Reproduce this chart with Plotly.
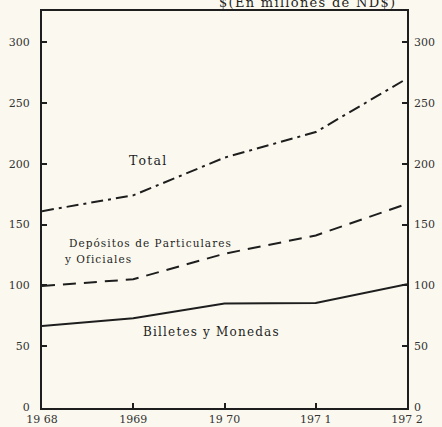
import plotly.graph_objects as go

years = [1968, 1969, 1970, 1971, 1972]
total = [161, 174, 205, 226, 270]
depositos = [99.5, 105, 126, 141, 167]
billetes = [66.5, 73, 85, 85.5, 101]
yticks = [0, 50, 100, 150, 200, 250, 300]
xticks = [1968, 1969, 1970, 1971, 1972]
xlabels = ["19 68", "1969", "19 70", "197 1", "197 2"]

FONT = "DejaVu Serif"
INK = "#1e1e1e"
BG = "#fbf9ef"
HS = "\u200a"

def spaced(s):
    return HS.join(list(s))

fig = go.Figure()
fig.add_trace(go.Scatter(x=years, y=total, mode="lines", line=dict(color=INK, width=2, dash="12px,5px,3px,5px"), showlegend=False))
fig.add_trace(go.Scatter(x=years, y=depositos, mode="lines", line=dict(color=INK, width=2, dash="13px,8px"), showlegend=False))
fig.add_trace(go.Scatter(x=years, y=billetes, mode="lines", line=dict(color=INK, width=2), showlegend=False))
fig.add_trace(go.Scatter(x=[1968], y=[0], yaxis="y2", mode="markers", marker=dict(opacity=0), showlegend=False, hoverinfo="skip"))

yr = [-0.8, 325.5]
tf = dict(family=FONT, size=11, color="#333")
fig.update_layout(
    width=442, height=427,
    margin=dict(l=42, r=35, t=11, b=19),
    paper_bgcolor=BG, plot_bgcolor=BG,
    font=dict(family=FONT, size=11, color="#333"),
    xaxis=dict(range=[1968, 1972], tickvals=xticks, ticktext=xlabels, automargin=False,
               showgrid=False, zeroline=False, showline=True, linecolor=INK, linewidth=2, mirror=True,
               ticks="inside", ticklen=5, tickcolor=INK, tickwidth=1.5, tickfont=tf, ticklabelstandoff=0),
    yaxis=dict(range=yr, tickvals=yticks, showgrid=False, zeroline=False, showline=True, linecolor=INK, linewidth=2,
               mirror=True, ticks="inside", ticklen=5, tickcolor=INK, tickwidth=1.5, ticklabelstandoff=8,
               tickfont=tf, automargin=False),
    yaxis2=dict(range=yr, tickvals=yticks, overlaying="y", side="right", showgrid=False, zeroline=False,
                showline=False, ticks="inside", ticklen=5, tickcolor=INK, tickwidth=1.5, ticklabelstandoff=6,
                tickfont=tf, automargin=False),
)

fig.add_annotation(x=1969.16, y=203, text=spaced("Total"), xanchor="center", yanchor="middle",
                   showarrow=False, font=dict(family=FONT, size=12.5, color=INK))
fig.add_annotation(x=1968.27, y=135, text=spaced("Depósitos de Particulares"), xanchor="left", yanchor="middle",
                   showarrow=False, font=dict(family=FONT, size=10.5, color=INK))
fig.add_annotation(x=1968.22, y=121.6, text=spaced("y Oficiales"), xanchor="left", yanchor="middle",
                   showarrow=False, font=dict(family=FONT, size=10.5, color=INK))
fig.add_annotation(x=1969.85, y=61.6, text=spaced("Billetes y Monedas"), xanchor="center", yanchor="middle",
                   showarrow=False, font=dict(family=FONT, size=12, color=INK))
fig.add_annotation(x=0.726, xref="paper", y=1.0, yref="paper", text=spaced("$(En millones de ND$)"), xanchor="center",
                   yanchor="bottom", yshift=-1, showarrow=False, font=dict(family=FONT, size=13, color=INK))

fig.write_html("out.html", config={"displayModeBar": False},
               post_script="document.body.style.margin='0';document.body.style.padding='0';")
